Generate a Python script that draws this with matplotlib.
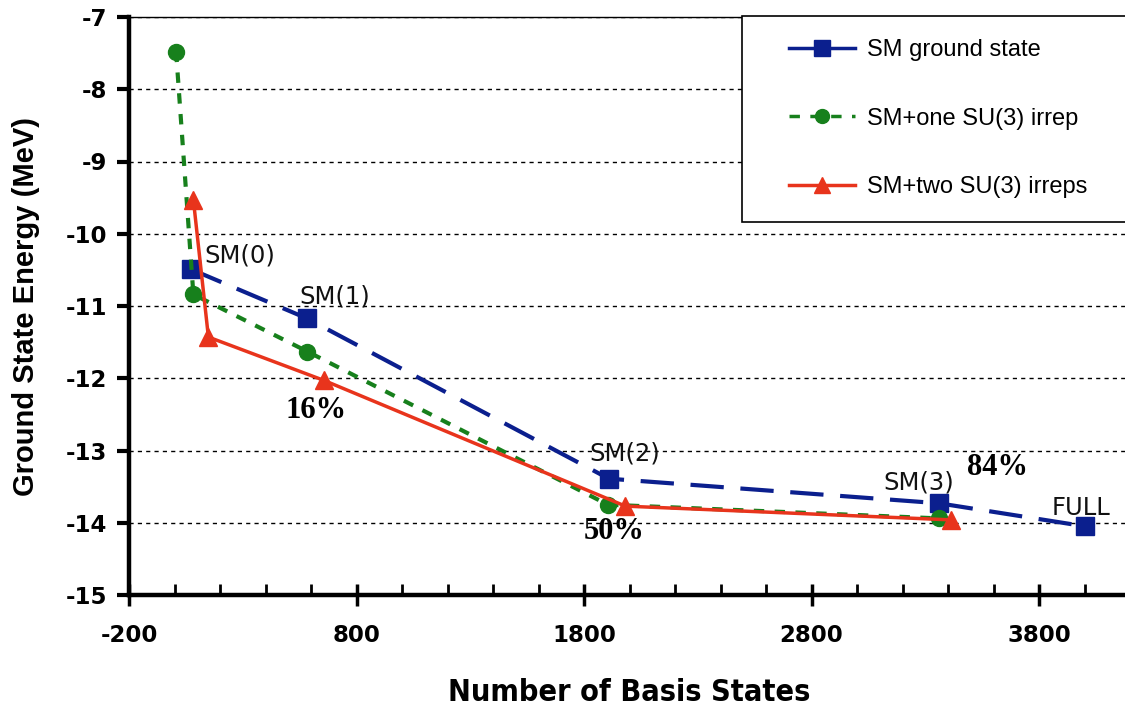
import matplotlib.pyplot as plt
from matplotlib.lines import Line2D
from matplotlib.legend_handler import HandlerLine2D
from matplotlib.ticker import FixedLocator

plt.rcParams["axes.unicode_minus"] = False

# number of basis states vs. ground state energy (MeV)
sm_states = [71, 581, 1909, 3359, 4004]
sm_energy = [-10.49, -11.17, -13.39, -13.73, -14.05]
sm_names = ["SM(0)", "SM(1)", "SM(2)", "SM(3)", "FULL"]

one_states = [7, 83, 584, 1905, 3362]
one_energy = [-7.48, -10.84, -11.63, -13.75, -13.94]

two_states = [83, 149, 657, 1982, 3412]
two_energy = [-9.53, -11.43, -12.03, -13.77, -13.96]
two_share = ["16%", "50%", "84%"]   # fraction of the full space, last three points

x_major = [-200, 800, 1800, 2800, 3800]
x_minor = list(range(-200, 4201, 200))
y_major = list(range(-15, -6))

blue = "#0b1f8e"
green = "#17801c"
red = "#e8341c"
sans = ["Liberation Sans", "DejaVu Sans"]

fig = plt.figure(figsize=(11.25, 7.13), dpi=100)
ax = fig.add_axes([129 / 1125, 118 / 713, 1001 / 1125, 578 / 713])

ax.plot(sm_states, sm_energy, color=blue, lw=3, dashes=(8, 4),
        marker="s", ms=13, zorder=3)
ax.plot(one_states, one_energy, color=green, lw=3, dashes=(2.5, 2.5),
        marker="o", ms=11.5, zorder=4)
ax.plot(two_states, two_energy, color=red, lw=2.5, ls="-",
        marker="^", ms=13, zorder=5)

# state labels next to the shell-model points
sm_offsets = [(10, 10), (-5, 16), (-14, 18), (-40, 15), (-24, 13)]
for x, y, name, off in zip(sm_states, sm_energy, sm_names, sm_offsets):
    ax.annotate(name, (x, y), xytext=off, textcoords="offset points",
                ha="left", va="center", fontsize=17.5, family="DejaVu Sans",
                color="#111111", zorder=6)

pct_offsets = [(-28, -22), (-30, -18), (12, 38)]
for x, y, txt, off in zip(two_states[2:], two_energy[2:], two_share, pct_offsets):
    ax.annotate(txt, (x, y), xytext=off, textcoords="offset points",
                ha="left", va="center", fontsize=22, fontweight="bold",
                family=["Liberation Serif", "DejaVu Serif"], zorder=6)

ax.set_xlim(-200, 4200)
ax.set_ylim(-15, -7)
ax.xaxis.set_major_locator(FixedLocator(x_major))
ax.xaxis.set_minor_locator(FixedLocator(x_minor))
ax.yaxis.set_major_locator(FixedLocator(y_major))

for y in y_major[1:]:
    ax.axhline(y, color="black", lw=1, dashes=(3, 3), zorder=1)

ax.spines["right"].set_visible(False)
ax.spines["top"].set_linewidth(1)
ax.spines["left"].set_linewidth(3.2)
ax.spines["bottom"].set_linewidth(3.2)

ax.tick_params(axis="y", which="major", direction="out", length=9, width=3,
               pad=7, labelsize=16.5)
ax.tick_params(axis="x", which="major", direction="inout", length=16, width=2.5,
               pad=13, labelsize=16.5)
ax.tick_params(axis="x", which="minor", direction="in", length=8, width=2)
ax.tick_params(axis="y", which="minor", left=False)

for lab in ax.get_xticklabels() + ax.get_yticklabels():
    lab.set_family("DejaVu Sans")
    lab.set_fontweight("bold")

ax.set_xlabel("Number of Basis States", fontsize=22, fontweight="bold",
              family="DejaVu Sans", fontstretch="condensed", labelpad=22)
ax.set_ylabel("Ground State Energy (MeV)", fontsize=21, fontweight="bold",
              family=sans, labelpad=18)

handles = [
    Line2D([], [], color=blue, lw=2.5, marker="s", ms=11),
    Line2D([], [], color=green, lw=2.5, dashes=(3, 3), marker="o", ms=10),
    Line2D([], [], color=red, lw=2.5, marker="^", ms=11),
]
labels = ["SM ground state", "SM+one SU(3) irrep", "SM+two SU(3) irreps"]
hmap = {h: HandlerLine2D(xpad=1.0) for h in handles}
leg = ax.legend(handles, labels, handler_map=hmap, loc="upper left",
                bbox_to_anchor=(0.612, 1.002, 0.5, 0.0), mode="expand",
                prop={"family": sans, "size": 17}, borderpad=1.0,
                labelspacing=1.96, handlelength=3.8, handletextpad=0.5,
                fancybox=False, framealpha=1, edgecolor="black",
                borderaxespad=0, numpoints=1)
leg.get_frame().set_linewidth(1.2)
leg.set_zorder(7)

fig.savefig("out.png", dpi=100)
